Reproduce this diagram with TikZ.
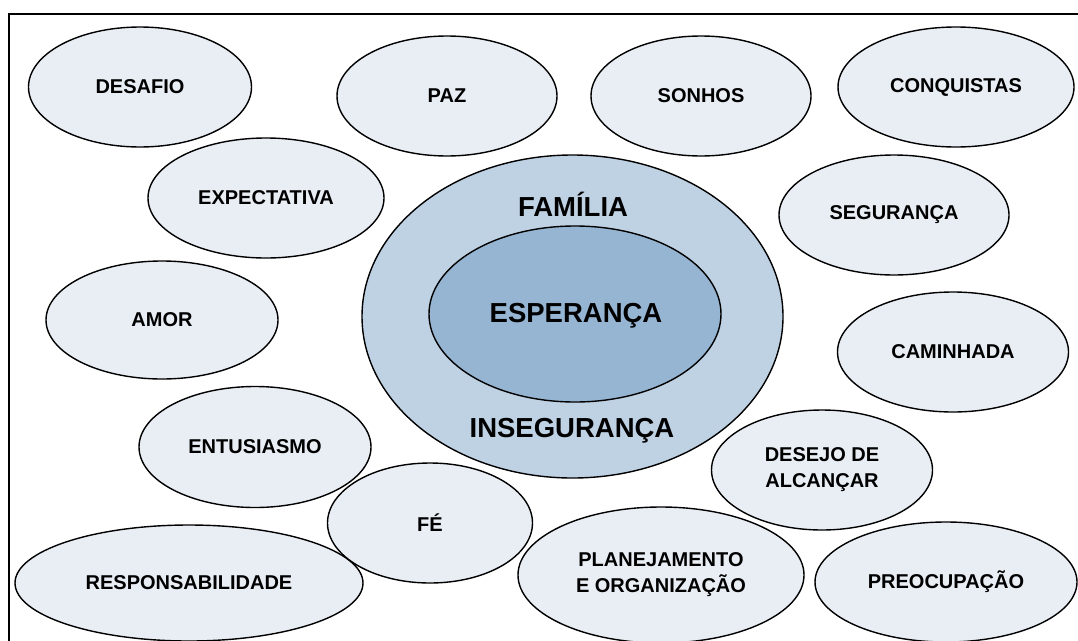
\documentclass[tikz,border=0pt]{standalone}
\usepackage{fontspec}
\setmainfont{Liberation Sans}
\usetikzlibrary{shapes.geometric}
\definecolor{smallfill}{HTML}{E9EEF5}
\definecolor{outerfill}{HTML}{BFD2E4}
\definecolor{innerfill}{HTML}{95B5D3}
\tikzset{
  bubble/.style={ellipse, draw=black, line width=1.4pt, fill=smallfill, inner sep=0pt,
    font=\fontsize{20}{26}\selectfont\bfseries, align=center},
  bigtext/.style={font=\fontsize{27.5}{32}\selectfont\bfseries, inner sep=0pt},
  frameline/.style={draw=black, line width=2pt}
}
\begin{document}
\begin{tikzpicture}[x=1pt,y=-1pt]
\useasboundingbox (0,0) rectangle (1078,640);
\coordinate (fbl) at (9,645);
\coordinate (ftl) at (9,14);
\coordinate (ftr) at (1083,14);
\draw[frameline] (fbl) -- (ftl) -- (ftr);

\node[ellipse, draw=black, line width=1.4pt, fill=outerfill, minimum width=421pt, minimum height=323pt] (outer) at (572.5,316.5) {};
\node[ellipse, draw=black, line width=1.4pt, fill=innerfill, minimum width=292pt, minimum height=176pt] (inner) at (575,314) {};
\node[bigtext] (familia) at (573,204) {FAMÍLIA};
\node[bigtext] (esperanca) at (576,316) {ESPERANÇA};
\node[bigtext] (inseguranca) at (572,431) {INSEGURANÇA};

\node[bubble, minimum width=223pt, minimum height=120pt] (desafio) at (140,87) {DESAFIO};
\node[bubble, minimum width=220pt, minimum height=120pt] (paz) at (447,96) {PAZ};
\node[bubble, minimum width=220pt, minimum height=120pt] (sonhos) at (701,96) {SONHOS};
\node[bubble, minimum width=236pt, minimum height=120pt] (conquistas) at (956,87) {CONQUISTAS};
\node[bubble, minimum width=236pt, minimum height=120pt] (expectativa) at (266,198) {EXPECTATIVA};
\node[bubble, minimum width=230pt, minimum height=120pt] (seguranca) at (894,215) {SEGURANÇA};
\node[bubble, minimum width=232pt, minimum height=118pt] (amor) at (162,320) {AMOR};
\node[bubble, minimum width=231pt, minimum height=120pt] (caminhada) at (953,352) {CAMINHADA};
\node[bubble, minimum width=232pt, minimum height=121pt] (entusiasmo) at (255,447) {ENTUSIASMO};
\node[bubble, minimum width=348pt, minimum height=116pt] (resp) at (189,583) {RESPONSABILIDADE};
\node[bubble, minimum width=205pt, minimum height=120pt] (fe) at (430,523) {FÉ};
\node[bubble, minimum width=286pt, minimum height=136pt] (plan) at (661,575) {PLANEJAMENTO\\E ORGANIZAÇÃO};
\node[bubble, minimum width=221pt, minimum height=120pt] (desejo) at (822,470) {DESEJO DE\\ALCANÇAR};
\node[bubble, minimum width=262pt, minimum height=120pt] (preoc) at (946,582) {PREOCUPAÇÃO};
\end{tikzpicture}
\end{document}
